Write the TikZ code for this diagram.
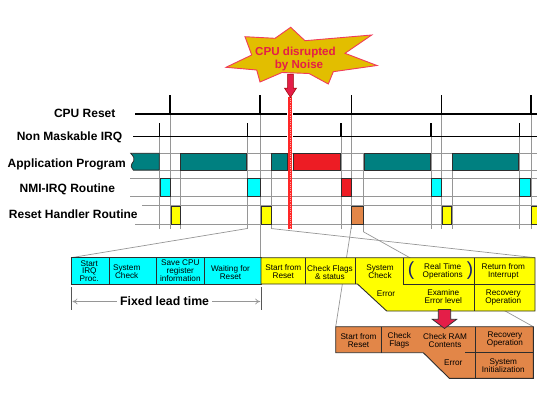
\documentclass[tikz,border=0pt]{standalone}
\usepackage{fontspec}
\setmainfont{Liberation Sans}
\usetikzlibrary{arrows.meta}
\definecolor{tealbar}{RGB}{0,128,128}
\definecolor{cyanbox}{RGB}{0,255,255}
\definecolor{yelbox}{RGB}{255,255,0}
\definecolor{orngbox}{RGB}{226,134,72}
\definecolor{redbar}{RGB}{237,28,36}
\definecolor{crim}{RGB}{228,30,72}
\definecolor{starfill}{RGB}{226,190,0}
\definecolor{starline}{RGB}{240,60,90}
\definecolor{navy}{RGB}{20,30,110}
\definecolor{gline}{RGB}{150,150,150}
\definecolor{outl}{RGB}{45,45,45}
\definecolor{noisered}{RGB}{255,40,40}
\begin{document}
\begin{tikzpicture}[x=1pt,y=-1pt,
  gridln/.style={draw=gline, line width=0.7pt},
  sig/.style={draw=black, line width=1.5pt},
  tickln/.style={draw=black, line width=1.2pt},
  barbox/.style={draw=outl, line width=0.8pt},
  blk/.style={draw=outl, line width=0.9pt},
  lbl/.style={font=\bfseries\fontsize{12}{14}\selectfont, inner sep=0pt, anchor=base},
  celltxt/.style={font=\fontsize{8.2}{8}\selectfont, align=center, inner sep=0pt},
  cellthree/.style={font=\fontsize{8.2}{7.6}\selectfont, align=center, inner sep=0pt},
  zoomln/.style={draw=gline, line width=0.7pt}]
\useasboundingbox (0,0) rectangle (560,407);

% ---------- labels ----------
\node[lbl] (lcpu) at (84.7,117.3) {CPU Reset};
\node[lbl] (lnmi) at (69.5,140.3) {Non Maskable IRQ};
\node[lbl] (lapp) at (66.7,167.5) {Application Program};
\node[lbl] (lirq) at (67.3,192.6) {NMI-IRQ Routine};
\node[lbl] (lrst) at (73.3,218.3) {Reset Handler Routine};

% ---------- row grid lines ----------
\draw[gridln] (133,153.3) -- (536.7,153.3);
\draw[gridln] (133,170) -- (536.7,170);
\draw[gridln] (130,178.3) -- (536.7,178.3);
\draw[gridln] (130,196.7) -- (536.7,196.7);
\draw[gridln] (142,205.7) -- (536.7,205.7);
\draw[gridln] (135,224) -- (536.7,224);

% ---------- vertical grid lines ----------
\foreach \xx in {159.3,247.3,341,431,519.3}
  \draw[gridln] (\xx,137) -- (\xx,228.5);
\foreach \xx in {170,351.5,441.5,531}
  \draw[gridln] (\xx,114) -- (\xx,228.5);
\draw[gridln] (260,114) -- (260,257.7);
\foreach \xx in {180.7,271,452}
  \draw[gridln] (\xx,153.3) -- (\xx,228.5);
\draw[gridln] (363.3,153.3) -- (363.3,231.7);

% ---------- zoom connectors ----------
\coordinate (za1) at (247.3,228.5);
\coordinate (zb1) at (71,257.7);
\coordinate (za2) at (271,228.5);
\coordinate (zb2) at (535,257.7);
\coordinate (zc1) at (351.7,224.3);
\coordinate (zd1) at (335.7,326.7);
\coordinate (zc2) at (363.3,231.7);
\coordinate (zd2) at (533.3,326.7);
\draw[zoomln] (za1) -- (zb1);
\draw[zoomln] (za2) -- (zb2);
\draw[zoomln] (zc1) -- (zd1);
\draw[zoomln] (zc2) -- (zd2);

% ---------- signal lines ----------
\draw[sig] (135,114) -- (286.7,114);
\draw[sig] (293,114) -- (536.7,114);
\draw[sig] (133,136.7) -- (286.7,136.7);
\draw[sig] (293,136.7) -- (536.7,136.7);
\foreach \xx in {170,260,351.5,441.5,531}
  \draw[tickln] (\xx,95) -- (\xx,114);
\foreach \xx in {159.3,247.3,341,431,519.3}
  \draw[tickln] (\xx,123) -- (\xx,136.7);

% ---------- application program bars ----------
\filldraw[fill=tealbar, barbox] (159.3,153.3) -- (130.7,153.3)
  .. controls (133.5,156.5) and (135,158.5) .. (133.8,160.8)
  .. controls (132.5,163) and (130.5,165) .. (131.2,166.5)
  .. controls (131.8,168) and (132.6,169.2) .. (133.3,170)
  -- (159.3,170) -- cycle;
\filldraw[fill=tealbar, barbox] (180.7,153.3) rectangle (246.7,170);
\filldraw[fill=tealbar, barbox] (271.7,153.3) rectangle (287.7,170);
\filldraw[fill=redbar, barbox] (293.3,153.3) rectangle (340,170);
\filldraw[fill=tealbar, barbox] (364.3,153.3) rectangle (430,170);
\filldraw[fill=tealbar, barbox] (452.7,153.3) rectangle (518.3,170);

% ---------- NMI-IRQ boxes ----------
\filldraw[fill=cyanbox, barbox] (160,178.3) rectangle (170.7,196.7);
\filldraw[fill=cyanbox, barbox] (247.7,178.3) rectangle (260,196.7);
\filldraw[fill=redbar, barbox] (341,178.3) rectangle (351,196.7);
\filldraw[fill=cyanbox, barbox] (431,178.3) rectangle (441,196.7);
\filldraw[fill=cyanbox, barbox] (519.3,178.3) rectangle (530.7,196.7);

% ---------- reset handler boxes ----------
\filldraw[fill=yelbox, barbox] (171,206) rectangle (180,224.3);
\filldraw[fill=yelbox, barbox] (261.3,206) rectangle (271,224.3);
\filldraw[fill=orngbox, barbox] (351.7,206) rectangle (363.3,224.3);
\filldraw[fill=yelbox, barbox] (442,206) rectangle (451.7,224.3);
\fill[yelbox] (531.7,206) rectangle (536.7,224.3);
\draw[barbox] (536.7,206) -- (531.7,206) -- (531.7,224.3) -- (536.7,224.3);

% ---------- noise line ----------
\draw[draw=noisered, line width=3.2pt] (290,97) -- (290,229);
\draw[draw=red!35, line width=0.8pt, dash pattern=on 1pt off 1.2pt] (290,98) -- (290,228);

% ---------- star ----------
\filldraw[fill=starfill, draw=starline, line width=0.9pt]
  (290.7,27.3) -- (305,40.7) -- (371.7,35) -- (345,53.3) -- (377,65.5)
  -- (333.3,71.7) -- (328.3,84) -- (309,73.5) -- (282,72.5) -- (260,82)
  -- (256.7,70) -- (226,67.3) -- (251.7,55) -- (245,36.7) -- (275,38.3) -- cycle;
\node[font=\bfseries\fontsize{11.6}{12}\selectfont, text=crim, inner sep=0pt, anchor=base] (star1) at (295.5,55) {CPU disrupted};
\node[font=\bfseries\fontsize{11.6}{12}\selectfont, text=crim, inner sep=0pt, anchor=base] (star2) at (299,68.3) {by Noise};
\filldraw[fill=crim, draw=red!60!black, line width=0.5pt]
  (287.6,74) -- (293.4,74) -- (293.4,88) -- (296.6,88) -- (290.5,97.5)
  -- (284.4,88) -- (287.6,88) -- cycle;

% ---------- cyan block ----------
\filldraw[fill=cyanbox, blk] (71,257.7) rectangle (261,284);
\foreach \xx in {109.3,156.7,204}
  \draw[blk] (\xx,257.7) -- (\xx,284);
\node[cellthree] (c1) at (89.3,270.9) {Start\\IRQ\\Proc.};
\node[celltxt] (c2) at (126.7,271.5) {System\\Check};
\node[cellthree] (c3) at (180.3,270.9) {Save CPU\\register\\information};
\node[celltxt] (c4) at (230.5,272.5) {Waiting for\\Reset};

% ---------- yellow block ----------
\filldraw[fill=yelbox, blk] (261,257.7) -- (535,257.7) -- (535,311)
  -- (386.7,311) -- (357.5,284) -- (261,284) -- cycle;
\foreach \xx in {305,355,403.3}
  \draw[blk] (\xx,257.7) -- (\xx,284);
\draw[blk] (474.3,257.7) -- (474.3,311);
\draw[blk] (403.3,284) -- (535,284);
\node[celltxt] (y1) at (283.3,271.5) {Start from\\Reset};
\node[celltxt] (y2) at (330,272.3) {Check Flags\\\& status};
\node[celltxt] (y3) at (380,271.4) {System\\Check};
\node[celltxt] (y4) at (442.7,271.8) {Real Time\\Operations};
\node[font=\fontsize{19}{19}\selectfont, text=navy, inner sep=0pt] (pl) at (411,270.8) {(};
\node[font=\fontsize{19}{19}\selectfont, text=navy, inner sep=0pt] (pr) at (470,270.8) {)};
\node[celltxt] (y5) at (503.3,271.8) {Return from\\Interrupt};
\node[celltxt] (y6) at (386,293.6) {Error};
\node[celltxt] (y7) at (443.3,296.8) {Examine\\Error level};
\node[celltxt] (y8) at (503.3,297.3) {Recovery\\Operation};

% ---------- fixed lead time ----------
\draw[draw=outl!80, line width=0.8pt] (71.7,287) -- (71.7,310);
\draw[draw=outl!80, line width=0.8pt] (261,287) -- (261,310);
\node[font=\bfseries\fontsize{12.3}{14}\selectfont, inner sep=0pt, anchor=base] (flt) at (164.6,305.8) {Fixed lead time};
\draw[draw=gline, line width=0.7pt, -{To[length=5pt,width=6pt]}] (flt.west) ++(-3,0) coordinate (fl1) -- (72.5,301.5);
\draw[draw=gline, line width=0.7pt, -{To[length=5pt,width=6pt]}] (flt.east) ++(3,0) coordinate (fl2) -- (260.2,301.5);

% ---------- orange block ----------
\filldraw[fill=orngbox, blk] (335.7,326.7) -- (533.3,326.7) -- (533.3,378.3)
  -- (449.3,378.3) -- (423.3,352.7) -- (335.7,352.7) -- cycle;
\draw[blk] (381.7,326.7) -- (381.7,352.7);
\draw[blk] (475,326.7) -- (475,378.3);
\draw[blk] (465,352.7) -- (533.3,352.7);
\node[celltxt] (o1) at (358.5,340.2) {Start from\\Reset};
\node[celltxt] (o2) at (399.3,340.2) {Check\\Flags};
\node[celltxt] (o3) at (445,340.2) {Check RAM\\Contents};
\node[celltxt] (o4) at (505,339.4) {Recovery\\Operation};
\node[celltxt] (o5) at (453.3,362.5) {Error};
\node[celltxt] (o6) at (503.3,365.4) {System\\Initialization};

% ---------- block arrow ----------
\filldraw[fill=crim, draw=outl, line width=0.7pt]
  (438.3,309.5) -- (450.7,309.5) -- (450.7,319.3) -- (456.7,319.3)
  -- (444.5,328.5) -- (432.3,319.3) -- (438.3,319.3) -- cycle;
\end{tikzpicture}
\end{document}
